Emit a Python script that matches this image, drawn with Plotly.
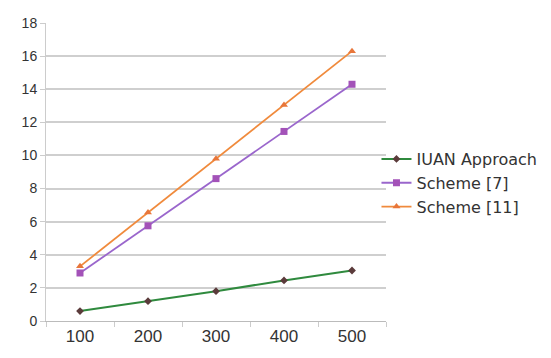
import plotly.graph_objects as go

categories = ["100", "200", "300", "400", "500"]
iuan = [0.6, 1.2, 1.8, 2.45, 3.05]
scheme7 = [2.9, 5.75, 8.6, 11.45, 14.3]
scheme11 = [3.3, 6.55, 9.8, 13.05, 16.3]
y_ticks = [0, 2, 4, 6, 8, 10, 12, 14, 16, 18]

fig = go.Figure()
fig.add_trace(go.Scatter(x=categories, y=iuan, name="IUAN Approach", mode="lines+markers",
                         line=dict(color="#2f8a3e", width=2),
                         marker=dict(symbol="diamond", size=6, color="#5b3b3b")))
fig.add_trace(go.Scatter(x=categories, y=scheme7, name="Scheme [7]", mode="lines+markers",
                         line=dict(color="#9a66cc", width=1.8),
                         marker=dict(symbol="square", size=7, color="#a352b8")))
fig.add_trace(go.Scatter(x=categories, y=scheme11, name="Scheme [11]", mode="lines+markers",
                         line=dict(color="#f08a3c", width=1.8),
                         marker=dict(symbol="triangle-up", size=7, color="#e8763a")))

fig.update_layout(
    width=551, height=358,
    margin=dict(l=38, r=173, t=15, b=45, autoexpand=False),
    paper_bgcolor="white", plot_bgcolor="white",
    font=dict(family="Liberation Sans, Arial, sans-serif", color="#333333"),
    showlegend=True,
    legend=dict(x=0.972, y=0.463, xanchor="left", yanchor="middle",
                font=dict(size=16, color="#333333", family="DejaVu Sans, sans-serif"),
                itemwidth=30, tracegroupgap=0, bgcolor="rgba(0,0,0,0)"),
)
fig.update_xaxes(type="category", range=[-0.5, 4.5], showgrid=False, showline=True,
                 linecolor="#bbbbbb", ticks="outside", tickcolor="#cccccc", ticklen=5,
                 tickson="boundaries", tickfont=dict(size=17, color="#333333"))
fig.update_yaxes(range=[0, 18], tickvals=y_ticks, showgrid=True, gridcolor="#cfcfcf",
                 gridwidth=1.5, showline=True, linecolor="#cccccc", zeroline=False,
                 ticks="outside", tickcolor="#cccccc", ticklen=5,
                 tickfont=dict(size=14, color="#333333"))

fig.write_html("out.html")
